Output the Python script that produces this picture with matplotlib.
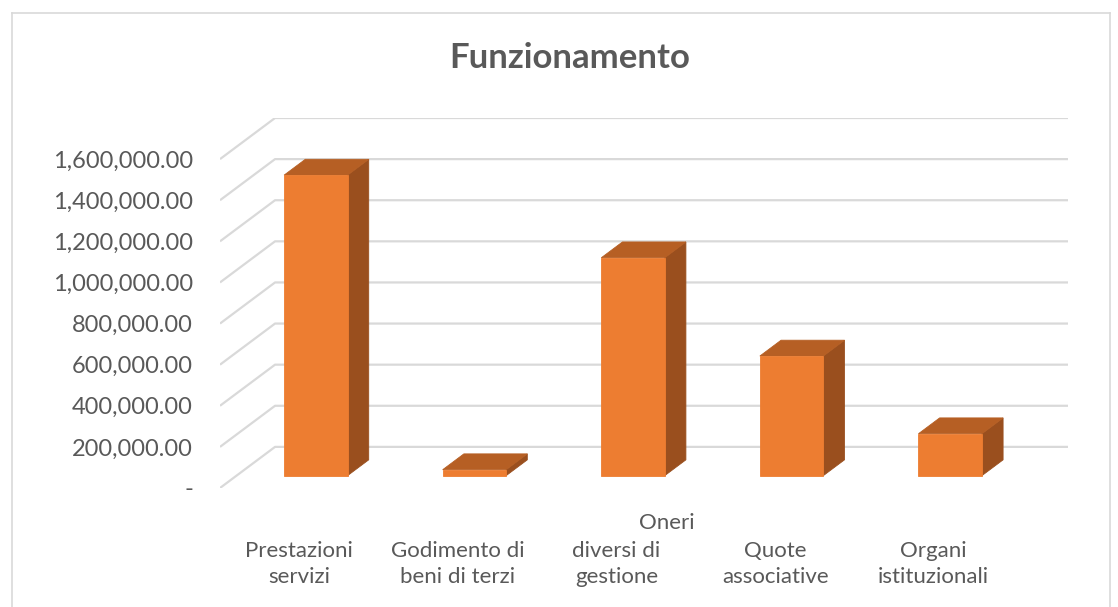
import matplotlib.pyplot as plt
from matplotlib.patches import Polygon
from matplotlib.transforms import blended_transform_factory

categories = ['Prestazioni\nservizi', 'Godimento di\nbeni di terzi', 'diversi di\ngestione',
              'Quote\nassociative', 'Organi\nistituzionali']
values = [1462000, 29000, 1060000, 582000, 204000]
tick_values = [0, 200000, 400000, 600000, 800000, 1000000, 1200000, 1400000, 1600000]
tick_labels = ['-'] + ['{:,.2f}'.format(v) for v in tick_values[1:]]

FRONT = '#ED7D31'
TOP = '#B65F24'
SIDE = '#9A4F1E'
GRID = '#D9D9D9'
TEXT = '#595959'

# oblique depth: one unit of depth moves right / up by these amounts
SX = 0.347
SY = 200000
D0, D1 = 0.30, 0.685
HALF = 0.2


def proj(x, v, d):
    return (x + SX * d, v + SY * d)


W, H = 1118, 607
fig = plt.figure(figsize=(W / 100, H / 100), dpi=100)
plt.rcParams['font.family'] = ['Lato', 'DejaVu Sans']

ax = fig.add_axes([220 / W, 1 - 488 / H, (1068 - 220) / W, (488 - 118) / H])
n = len(values)
ax.set_xlim(-0.5, n - 0.5 + SX)
ax.set_ylim(0, tick_values[-1] + SY)
for s in ax.spines.values():
    s.set_visible(False)
ax.set_xticks([])
ax.set_yticks(tick_values)
ax.set_yticklabels(tick_labels, fontsize=17, color=TEXT)
ax.tick_params(axis='y', length=0, pad=19.5)
ax.patch.set_alpha(0)

# floor + back wall gridlines
for v in tick_values:
    x0, y0 = proj(-0.5, v, 0)
    x1, y1 = proj(-0.5, v, 1)
    ax.plot([x0, x1, n - 0.5 + SX], [y0, y1, y1], color=GRID, lw=1.6,
            solid_capstyle='butt', zorder=1)

for i, val in enumerate(values):
    xa, xb = i - HALF, i + HALF
    front = [proj(xa, 0, D0), proj(xb, 0, D0), proj(xb, val, D0), proj(xa, val, D0)]
    top = [proj(xa, val, D0), proj(xb, val, D0), proj(xb, val, D1), proj(xa, val, D1)]
    side = [proj(xb, 0, D0), proj(xb, 0, D1), proj(xb, val, D1), proj(xb, val, D0)]
    for pts, c in ((side, SIDE), (top, TOP), (front, FRONT)):
        ax.add_patch(Polygon(pts, closed=True, facecolor=c, edgecolor=c, lw=0.6, zorder=3))

# category labels under the floor
tr = blended_transform_factory(ax.transData, fig.transFigure)
for i, lab in enumerate(categories):
    ax.text(i, 1 - 541 / H, lab, transform=tr, ha='center', va='top',
            fontsize=16, color=TEXT, linespacing=1.38)
ax.text(2 + 50 / 158.6, 1 - 513 / H, 'Oneri', transform=tr, ha='center', va='top',
        fontsize=16, color=TEXT)

fig.text(570 / W, 1 - 58 / H, 'Funzionamento', ha='center', va='center',
         fontsize=25, fontweight='bold', color=TEXT)

# chart area outline
fig.add_artist(plt.Line2D([12 / W, 1110 / W], [1 - 13 / H, 1 - 13 / H], color=GRID, lw=1.2))
fig.add_artist(plt.Line2D([12 / W, 12 / W], [0, 1 - 13 / H], color=GRID, lw=1.2))
fig.add_artist(plt.Line2D([1110 / W, 1110 / W], [0, 1 - 13 / H], color=GRID, lw=1.2))

fig.savefig('out.png', dpi=100)
